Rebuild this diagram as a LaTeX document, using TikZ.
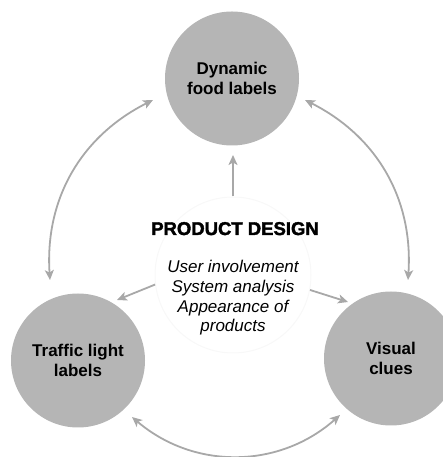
\documentclass[tikz,border=0pt]{standalone}
\usepackage{fontspec}
\setmainfont{Liberation Sans}
\newfontfamily\heavyfont{Liberation Sans}[BoldFeatures={FakeBold=2}]
\usetikzlibrary{arrows.meta}
\definecolor{circfill}{RGB}{181,181,181}
\definecolor{arrgray}{RGB}{168,168,168}
\definecolor{faint}{RGB}{248,248,248}
\tikzset{
  bubble/.style={circle, fill=circfill, minimum size=134pt, inner sep=0pt, align=center,
    font=\bfseries\fontsize{17}{20}\selectfont, text=black},
  tip/.tip={Stealth[length=10pt,width=9pt,inset=2.5pt]},
  arr/.style={draw=arrgray, line width=1.8pt, -tip},
  darr/.style={draw=arrgray, line width=1.8pt, tip-tip},
}
\begin{document}
\begin{tikzpicture}[x=1pt,y=1pt]
\useasboundingbox (0,0) rectangle (443,457);
% central faint circle
\node[circle, draw=faint, fill=white, line width=1pt, minimum size=156pt] (pd) at (233,182) {};
% satellite circles
\node[bubble] (dyn) at (232,378.5) {Dynamic\\food labels};
\node[bubble] (tl) at (78,96.5) {Traffic light\\labels};
\node[bubble] (vc) at (391,98.5) {Visual\\clues};
% texts
\node[anchor=base, font=\heavyfont\bfseries\fontsize{18.5}{20}\selectfont] (title) at (235,222) {PRODUCT DESIGN};
\node[align=center, font=\itshape\fontsize{17}{19.7}\selectfont] (items) at (233,159)
  {User involvement\\System analysis\\Appearance of\\products};
% arrow end coordinates
\coordinate (topTip) at (233,302);
\coordinate (leftTip) at (117,157);
\coordinate (rightTip) at (348,155);
\coordinate (L1) at (153,357);
\coordinate (L2) at (50,177);
\coordinate (R1) at (305,357);
\coordinate (R2) at (408,177);
\coordinate (B1) at (132,40);
\coordinate (B2) at (340,42);
% straight arrows
\draw[arr] (pd.north) -- (topTip);
\draw[arr] (pd.187.6) -- (leftTip);
\draw[arr] (pd.349) -- (rightTip);
% curved double arrows
\draw[darr] (L2) to[bend left=33.5] (L1);
\draw[darr] (R1) to[bend left=33.5] (R2);
\draw[darr] (B1) to[bend right=41] (B2);
\end{tikzpicture}
\end{document}
